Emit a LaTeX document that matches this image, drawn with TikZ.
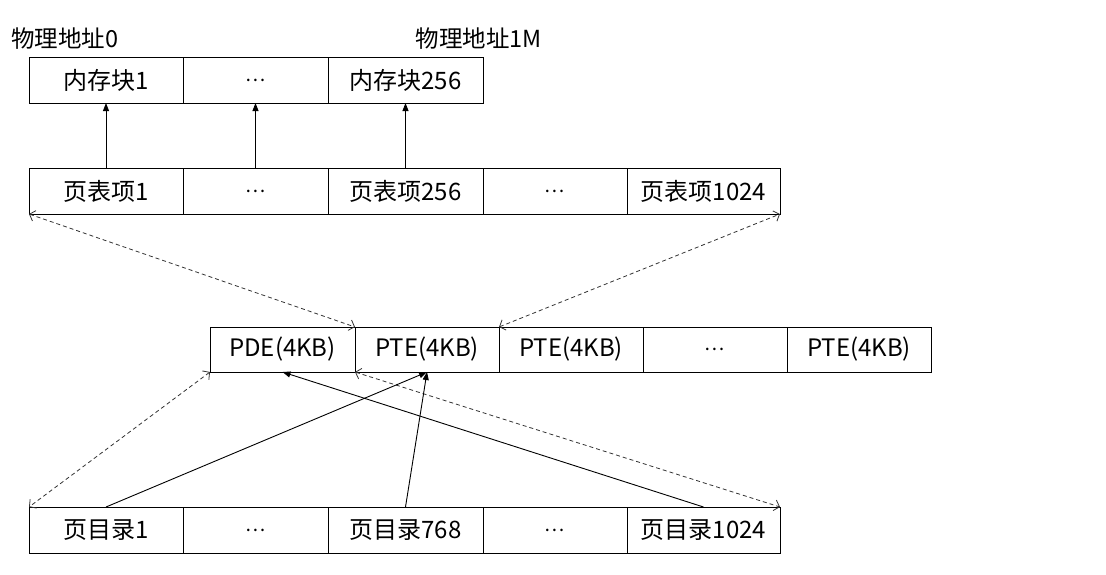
\documentclass[tikz,border=0pt]{standalone}
\usepackage{fontspec}
\setmainfont{Noto Sans CJK SC}
\usetikzlibrary{arrows.meta}
\newcommand{\mydots}{{\fontsize{19}{24}\selectfont …}}
\tikzset{
  cell/.style={draw, line width=0.9pt, rectangle, inner sep=0pt, outer sep=0pt,
    minimum height=46pt, font=\fontsize{24}{28}\selectfont},
  toplabel/.style={inner sep=0pt, font=\fontsize{23.5}{28}\selectfont},
  solidarrow/.style={line width=0.9pt, -{Triangle[length=8pt,width=6pt]}},
  dasharrow/.style={line width=0.8pt, draw=black!80, dash pattern=on 4pt off 3pt,
    {Straight Barb[length=5pt,width=11pt]}-{Straight Barb[length=5pt,width=11pt]}}
}
\begin{document}
\begin{tikzpicture}[x=1pt,y=-1pt]
\useasboundingbox (0,0) rectangle (1106,574);
% labels
\node[toplabel] (l0) at (65,39) {物理地址0};
\node[toplabel] (l1) at (479,39) {物理地址1M};
% row A
\node[cell, minimum width=154pt] (a1) at (106,80) {内存块1};
\node[cell, minimum width=145pt] (a2) at (255.5,80) {\mydots};
\node[cell, minimum width=155pt] (a3) at (405.5,80) {内存块256};
% row B
\node[cell, minimum width=154pt] (b1) at (106,191) {页表项1};
\node[cell, minimum width=145pt] (b2) at (255.5,191) {\mydots};
\node[cell, minimum width=155pt] (b3) at (405.5,191) {页表项256};
\node[cell, minimum width=144pt] (b4) at (555,191) {\mydots};
\node[cell, minimum width=153pt] (b5) at (703.5,191) {页表项1024};
% row C
\node[cell, minimum width=145pt, minimum height=45pt] (c1) at (282.5,349.5) {PDE(4KB)};
\node[cell, minimum width=144pt, minimum height=45pt] (c2) at (427,349.5) {PTE(4KB)};
\node[cell, minimum width=144pt, minimum height=45pt] (c3) at (571,349.5) {PTE(4KB)};
\node[cell, minimum width=144pt, minimum height=45pt] (c4) at (715,349.5) {\mydots};
\node[cell, minimum width=144pt, minimum height=45pt] (c5) at (859,349.5) {PTE(4KB)};
% row D
\node[cell, minimum width=154pt] (d1) at (106,530) {页目录1};
\node[cell, minimum width=145pt] (d2) at (255.5,530) {\mydots};
\node[cell, minimum width=155pt] (d3) at (405.5,530) {页目录768};
\node[cell, minimum width=144pt] (d4) at (555,530) {\mydots};
\node[cell, minimum width=153pt] (d5) at (703.5,530) {页目录1024};
% B -> A
\draw[solidarrow] (b1.north) -- (a1.south);
\draw[solidarrow] (b2.north) -- (a2.south);
\draw[solidarrow] (b3.north) -- (a3.south);
% dashed
\draw[dasharrow] (b1.south west) -- (c1.north east);
\draw[dasharrow] (c2.north east) -- (b5.south east);
\draw[dasharrow] (c1.south west) -- (d1.north west);
\draw[dasharrow] (c1.south east) -- (d5.north east);
% solid D -> C
\draw[solidarrow] (d1.north) -- (c2.south);
\draw[solidarrow] (d3.north) -- (c2.south);
\draw[solidarrow] (d5.north) -- (c1.south);
\end{tikzpicture}
\end{document}
